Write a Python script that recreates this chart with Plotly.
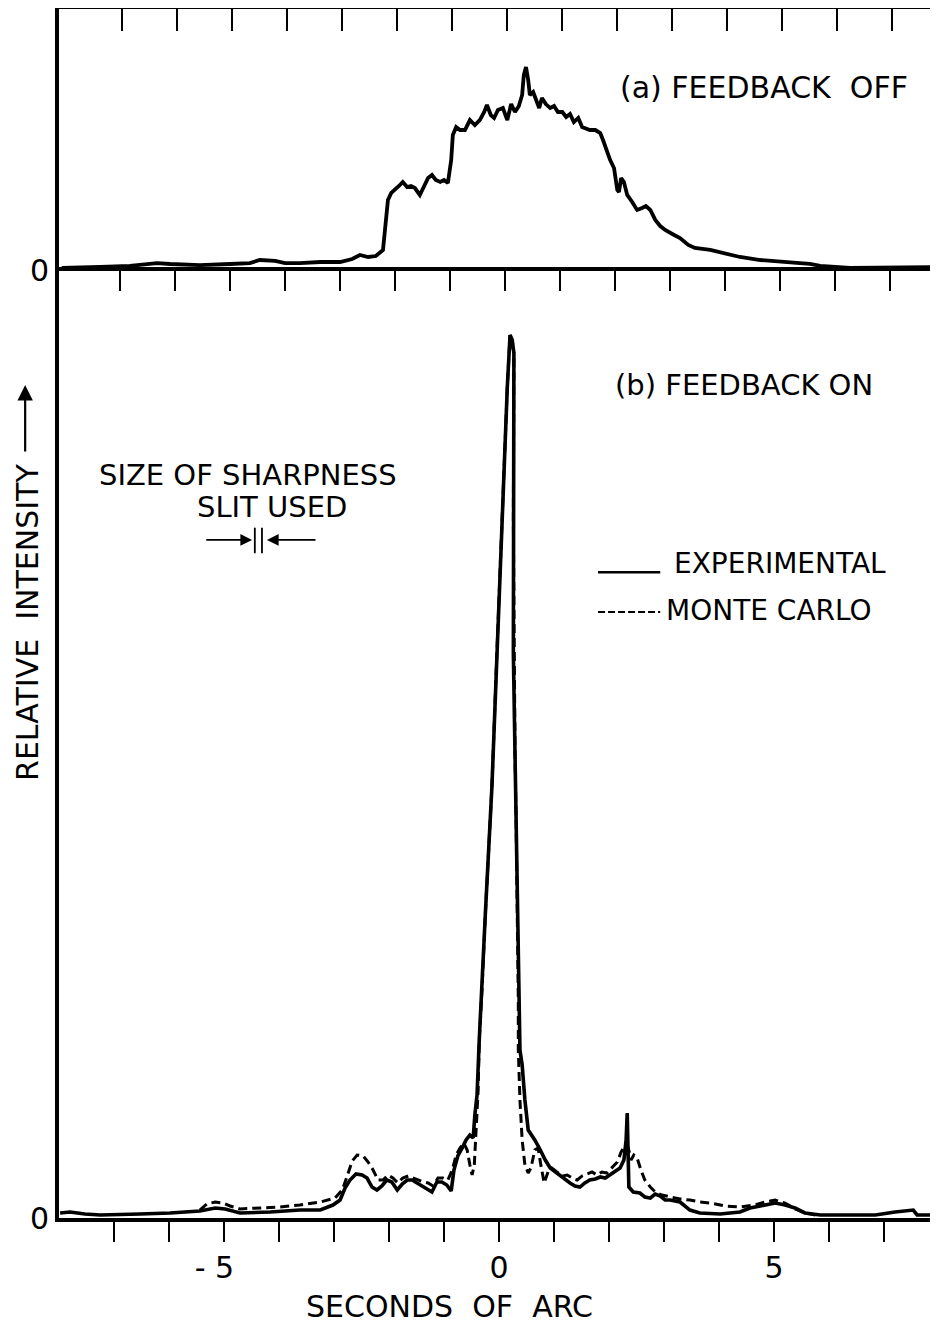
import plotly.graph_objects as go

# ---------------- data (arc seconds, relative intensity) ----------------
top_x = [-7.95,-7.62,-7.25,-6.71,-6.22,-5.98,-5.44,-4.89,-4.53,-4.35,-4.07,-3.89,-3.62,-3.25,-2.89,-2.67,-2.53,-2.38,-2.24,-2.11,
         -2.05,-2.02,-1.96,-1.89,-1.82,-1.75,-1.67,-1.60,-1.53,-1.44,-1.36,-1.29,-1.22,-1.15,-1.07,-1.00,-0.93,-0.87,-0.84,-0.78,
         -0.71,-0.62,-0.53,-0.44,-0.35,-0.27,-0.22,-0.15,-0.09,-0.02,0.07,0.15,0.22,0.29,0.36,0.42,0.45,0.49,0.53,0.56,
         0.62,0.67,0.73,0.78,0.85,0.93,1.00,1.07,1.15,1.22,1.29,1.36,1.44,1.51,1.58,1.65,1.75,1.84,1.89,1.95,
         2.02,2.09,2.15,2.18,2.22,2.27,2.33,2.42,2.51,2.60,2.67,2.75,2.84,2.93,3.02,3.15,3.29,3.44,3.56,3.84,
         4.11,4.38,4.75,5.11,5.47,5.65,5.84,6.38,6.93,7.47,7.93]
top_y = [0.32,0.32,0.42,0.53,0.84,0.74,0.63,0.74,0.84,1.16,1.06,0.84,0.84,0.95,0.95,1.27,1.69,1.48,1.58,2.22,
         5.91,7.50,8.24,8.55,8.98,9.40,8.87,8.98,8.76,8.03,8.98,9.82,10.14,9.61,9.40,9.61,9.29,11.72,14.36,15.21,
         14.89,14.89,15.94,15.42,15.94,16.79,17.53,16.47,16.16,17.00,17.21,15.94,17.63,16.79,17.42,18.59,20.70,21.54,20.17,18.59,
         18.90,18.06,17.21,18.27,17.63,17.21,17.42,16.79,16.79,16.26,16.58,15.73,16.16,15.21,15.10,14.89,14.89,14.57,13.83,12.78,
         11.72,10.88,8.55,8.34,9.82,9.40,8.03,7.29,6.44,6.65,6.86,6.44,5.39,4.75,4.33,3.91,3.48,2.75,2.43,2.22,
         1.90,1.48,1.16,0.95,0.84,0.74,0.53,0.32,0.32,0.32,0.42]

exp_x = [-7.98,-7.80,-7.53,-7.25,-6.53,-5.98,-5.44,-5.16,-4.98,-4.71,-4.16,-3.62,-3.25,-3.02,-2.89,-2.80,-2.71,-2.60,-2.49,-2.40,
         -2.31,-2.22,-2.13,-2.04,-1.95,-1.85,-1.76,-1.67,-1.58,-1.49,-1.40,-1.31,-1.22,-1.13,-1.04,-0.95,-0.87,-0.82,-0.75,-0.67,
         -0.60,-0.53,-0.47,-0.44,-0.40,-0.36,-0.31,-0.25,-0.13,-0.04,0.05,0.15,0.20,0.24,0.27,0.26,0.26,0.29,0.31,0.33,
         0.35,0.38,0.42,0.47,0.53,0.65,0.75,0.84,0.93,1.02,1.11,1.20,1.29,1.38,1.47,1.56,1.65,1.75,1.84,1.93,
         2.02,2.11,2.20,2.27,2.31,2.33,2.35,2.36,2.44,2.56,2.65,2.75,2.84,2.93,3.02,3.11,3.29,3.47,3.65,4.02,
         4.38,4.56,4.75,5.02,5.20,5.38,5.56,5.84,6.38,6.84,7.20,7.53,7.60,7.93]
exp_y = [0.53,0.63,0.42,0.32,0.42,0.53,0.74,1.06,0.95,0.53,0.63,0.84,0.84,1.37,1.90,3.17,4.01,4.65,4.54,4.22,
         3.27,2.96,3.38,4.01,3.80,2.96,3.59,4.01,4.01,3.70,3.38,3.17,2.75,3.80,3.80,3.48,2.85,5.07,6.55,7.39,
         8.24,8.76,8.45,10.88,12.99,18.80,24.08,32.00,45.51,59.66,73.71,87.75,93.24,92.71,91.34,73.71,59.66,49.10,42.03,33.58,
         23.02,17.74,16.16,12.46,9.29,8.24,7.18,6.12,5.28,4.86,4.54,4.01,3.70,3.38,3.27,3.70,4.01,4.12,4.33,4.22,
         4.54,4.86,5.28,6.12,8.24,11.09,7.18,3.27,2.75,2.64,2.22,2.11,2.53,2.32,1.90,1.90,1.69,0.84,0.53,0.42,
         0.63,1.06,1.27,1.58,1.37,1.06,0.53,0.32,0.32,0.32,0.63,0.84,0.32,0.32]

mc_x = [-5.44,-5.31,-5.16,-5.02,-4.89,-4.71,-4.35,-3.98,-3.62,-3.25,-2.98,-2.85,-2.76,-2.67,-2.58,-2.47,-2.38,-2.29,-2.20,-2.11,
        -2.02,-1.93,-1.84,-1.75,-1.65,-1.56,-1.47,-1.38,-1.29,-1.20,-1.11,-1.02,-0.93,-0.85,-0.78,-0.71,-0.64,-0.58,-0.53,-0.49,
        -0.45,-0.42,-0.38,-0.36,-0.31,-0.25,-0.13,-0.04,0.05,0.15,0.20,0.27,0.26,0.27,0.29,0.31,0.33,0.35,0.35,0.38,
        0.42,0.47,0.53,0.58,0.65,0.71,0.76,0.82,0.89,0.96,1.05,1.15,1.24,1.33,1.42,1.51,1.60,1.69,1.78,1.87,
        1.96,2.05,2.15,2.22,2.29,2.35,2.40,2.45,2.51,2.58,2.65,2.75,2.84,2.96,3.11,3.29,3.47,3.65,3.84,4.11,
        4.38,4.65,4.84,5.02,5.20,5.38,5.56,5.75]
mc_y = [0.84,1.48,1.69,1.58,1.27,0.95,1.06,1.16,1.37,1.69,2.11,2.96,4.44,6.02,6.65,6.55,5.91,5.07,4.01,4.01,
        4.54,4.22,3.70,4.22,4.44,4.22,4.01,3.80,3.70,3.38,4.22,4.22,4.01,5.07,6.65,7.39,7.92,7.18,5.60,4.54,
        5.60,9.29,13.52,18.80,24.08,32.00,45.51,59.66,73.71,87.75,93.24,91.34,73.71,59.66,49.10,42.03,33.58,23.02,17.74,12.46,
        8.24,5.60,4.75,5.28,7.18,7.39,5.60,3.70,4.86,5.28,4.86,4.44,4.54,4.22,4.01,4.44,4.65,4.86,4.54,4.86,
        4.75,5.28,5.91,6.97,7.71,7.39,6.12,6.65,6.34,5.07,4.01,3.27,2.75,2.43,2.22,2.01,1.90,1.69,1.58,1.27,
        1.16,1.37,1.69,1.90,1.58,0.95,0.53,0.32]

nb = "\u00a0"
tick_vals = [-7, -6, -5, -4, -3, -2, -1, 0, 1, 2, 3, 4, 5, 6, 7]
tick_text = ["", "", "-" + nb + "5" + nb * 2, "", "", "", "", "0", "", "", "", "", "5", "", ""]

# ---------------- figure ----------------
FONT = "DejaVu Sans"
X_RANGE = [-8.0, 7.98]
SPLIT = 0.7833

fig = go.Figure()
fig.add_trace(go.Scatter(x=top_x, y=top_y, xaxis="x2", yaxis="y2", mode="lines",
                         line=dict(color="black", width=3.8), hoverinfo="skip"))
fig.add_trace(go.Scatter(x=mc_x, y=mc_y, xaxis="x3", yaxis="y", mode="lines",
                         line=dict(color="black", width=3, dash="9px,5px"), hoverinfo="skip"))
fig.add_trace(go.Scatter(x=exp_x, y=exp_y, xaxis="x", yaxis="y", mode="lines",
                         line=dict(color="black", width=3.6), hoverinfo="skip"))

axis_common = dict(showgrid=False, zeroline=False, showline=True, linecolor="black",
                   linewidth=4, tickcolor="black", tickwidth=1.8)

# the page body adds an 8px offset, so the figure is 8px smaller than the window
fig.update_layout(
    width=930, height=1317,
    margin=dict(l=51, r=0, t=1, b=107),
    paper_bgcolor="white", plot_bgcolor="white",
    showlegend=False,
    font=dict(family=FONT, color="black"),
    xaxis=dict(domain=[0, 1], anchor="y", range=X_RANGE, tickmode="array",
               tickvals=tick_vals, ticktext=tick_text, ticks="outside", ticklen=20,
               tickfont=dict(size=30, family=FONT), **axis_common),
    xaxis3=dict(overlaying="x", anchor="y", side="top", range=X_RANGE, tickmode="array",
                tickvals=[v + 0.11 for v in tick_vals], ticks="inside", ticklen=20,
                showticklabels=False, **axis_common),
    xaxis2=dict(domain=[0, 1], anchor="y2", side="top", range=X_RANGE, tickmode="array",
                tickvals=[v + 0.14 for v in tick_vals], ticks="inside", ticklen=22,
                showticklabels=False, **axis_common),
    yaxis=dict(domain=[0, SPLIT], anchor="x", range=[0, 100], tickmode="array",
               tickvals=[0], ticktext=["0"], ticks="", tickfont=dict(size=30, family=FONT),
               **axis_common),
    yaxis2=dict(domain=[SPLIT, 1], anchor="x2", range=[0, 27.67], tickmode="array",
                tickvals=[0], ticktext=["0"], ticks="", tickfont=dict(size=30, family=FONT),
                **axis_common),
)

annotations = [
    dict(text="(a) FEEDBACK" + nb * 2 + "OFF", x=2.16, y=19.4, xref="x2", yref="y2",
         xanchor="left", yanchor="middle", showarrow=False, font=dict(size=30)),
    dict(text="(b) FEEDBACK ON", x=2.07, y=88.0, xref="x", yref="y",
         xanchor="left", yanchor="middle", showarrow=False, font=dict(size=29)),
    dict(text="SIZE OF SHARPNESS", x=-4.56, y=78.5, xref="x", yref="y",
         xanchor="center", yanchor="middle", showarrow=False, font=dict(size=29)),
    dict(text="SLIT USED", x=-4.13, y=75.1, xref="x", yref="y",
         xanchor="center", yanchor="middle", showarrow=False, font=dict(size=29)),
    dict(text="EXPERIMENTAL", x=3.15, y=69.1, xref="x", yref="y",
         xanchor="left", yanchor="middle", showarrow=False, font=dict(size=28)),
    dict(text="MONTE CARLO", x=3.0, y=64.2, xref="x", yref="y",
         xanchor="left", yanchor="middle", showarrow=False, font=dict(size=28)),
    dict(text="SECONDS" + nb * 2 + "OF" + nb * 2 + "ARC", x=0.4448, y=-0.0736, xref="paper", yref="paper",
         xanchor="center", yanchor="middle", showarrow=False, font=dict(size=30)),
    dict(text="RELATIVE" + nb * 2 + "INTENSITY", x=-0.0353, y=0.493, xref="paper", yref="paper",
         xanchor="center", yanchor="middle", textangle=-90, showarrow=False, font=dict(size=30)),
    # arrow after the y title
    dict(text="", x=-0.0385, y=0.689, xref="paper", yref="paper", showarrow=True,
         ax=0, ay=68, arrowhead=2, arrowsize=1.4, arrowwidth=2.2, arrowcolor="black"),
    # slit-size arrows
    dict(text="", x=-4.49, y=71.6, xref="x", yref="y", axref="x", ayref="y", ax=-5.35, ay=71.6,
         showarrow=True, arrowhead=2, arrowsize=1.3, arrowwidth=1.8, arrowcolor="black"),
    dict(text="", x=-4.22, y=71.6, xref="x", yref="y", axref="x", ayref="y", ax=-3.31, ay=71.6,
         showarrow=True, arrowhead=2, arrowsize=1.3, arrowwidth=1.8, arrowcolor="black"),
]
fig.update_layout(annotations=annotations)

shapes = [
    dict(type="line", xref="x", yref="y", x0=-4.44, x1=-4.44, y0=70.2, y1=72.9,
         line=dict(color="black", width=1.8)),
    dict(type="line", xref="x", yref="y", x0=-4.31, x1=-4.31, y0=70.2, y1=72.9,
         line=dict(color="black", width=1.8)),
    # legend samples
    dict(type="line", xref="x", yref="y", x0=1.80, x1=2.93, y0=68.2, y1=68.2,
         line=dict(color="black", width=2.5)),
    dict(type="line", xref="x", yref="y", x0=1.80, x1=2.93, y0=64.0, y1=64.0,
         line=dict(color="black", width=2, dash="7px,3px")),
    # faint right frame of lower panel
    dict(type="line", xref="x", yref="y", x0=7.92, x1=7.92, y0=0, y1=55,
         line=dict(color="black", width=1.5)),
]
fig.update_layout(shapes=shapes)

fig.write_html("out.html")
